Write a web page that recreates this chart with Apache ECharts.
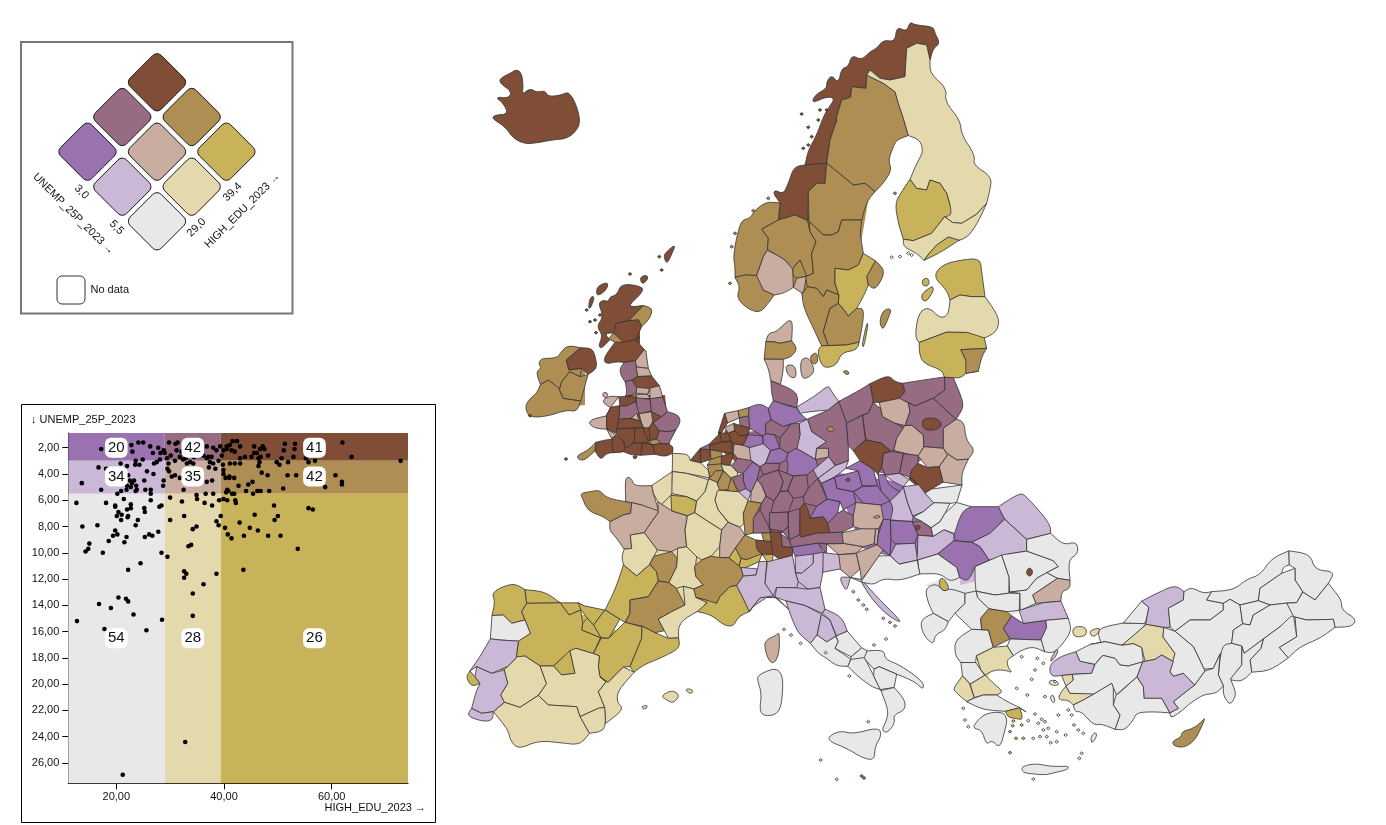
<!DOCTYPE html>
<html>
<head>
<meta charset="utf-8">
<title>UNEMP_25P_2023 / HIGH_EDU_2023</title>
<script src="https://cdn.jsdelivr.net/npm/echarts@6/dist/echarts.min.js"></script>
<style>
html,body{margin:0;padding:0;background:#fff}
#chart{width:1386px;height:825px}
</style>
</head>
<body>
<div id="chart"></div>
<script>
// bivariate classes
var classColors = {
  gr:'#e8e8e8', cr:'#e4d9ac', go:'#c8b35a',
  li:'#cbb8d7', pk:'#c8ada0', ta:'#af8e53',
  pu:'#9972af', ma:'#976b82', br:'#804d36', wh:'#ffffff'
};
var legendCells = [
  ['br',157,82.3],['ma',122.3,117],['ta',191.7,117],
  ['pu',87.5,151.7],['pk',157,151.7],['go',226.4,151.7],
  ['li',122.3,186.7],['cr',191.7,186.7],['gr',157,221.3]
];

// scatter: high edu %, unemployment %
var eduBreaks = [29.0, 39.4];
var unempBreaks = [3.0, 5.5];
var eduTicks = [20,40,60];
var unempTicks = [2,4,6,8,10,12,14,16,18,20,22,24,26];
var cellClasses = [['pu','ma','br'],['li','pk','ta'],['gr','cr','go']];
var cellCounts = [[20,42,41],[34,35,42],[54,28,26]];
var countX = [20,34.2,56.8];
var countY = [2,4.2,16.5];
var points = [
[21.2,26.9],[32.8,24.4],[34.2,14.8],[34.2,13.1],[36.2,12.4],[38.6,11.6],[43.6,11.3],[32.6,11.9],[33,11.6],[32.6,11.4],
[22.2,11.3],[24.5,10.8],[28.4,10],[29.5,10.3],[17.5,10],[14.3,9.9],[14.8,9.7],[15,9.3],[18.6,9.1],[21.5,9.2],
[21.9,8.8],[19.4,8.7],[20.2,8.6],[19.8,8.3],[25.3,8.8],[26.1,8.6],[26.7,8.7],[27.8,8.4],[23.6,7.9],[24,7.5],
[13.7,8],[16.5,7.9],[12.6,6.2],[18.1,6.2],[19.8,6.4],[19.8,6.5],[20.1,7.2],[20.4,6.9],[20.9,7.5],[21,7.1],
[22.2,7.2],[22.1,7.3],[22,6.7],[22.7,6.3],[22.7,6.6],[21.4,5.9],[25.2,6.6],[25.3,6.9],[26.4,6],[28,6.5],
[28.4,6.4],[30,5.8],[32.2,6.1],[36.4,6.2],[37.8,6.4],[30,7.5],[32.6,7.2],[38.6,7.6],[39,7.9],[39.4,7.2],
[34.2,8.2],[34.9,8],[33.4,9.5],[33.9,9.4],[40.2,8.1],[40.7,8.6],[41.4,8.9],[42.9,7.7],[43.7,8.7],[44.8,8.1],
[45.7,7.1],[46.3,8.3],[48.2,8.7],[49.3,6.4],[49.4,7.5],[50,7.2],[50.5,8.7],[53.7,9.7],[55.7,6.6],[56.5,6.7],
[39.1,6],[39.9,5.9],[40.6,6],[42.2,6.2],[42.1,6],[16.8,13.9],[19,14.2],[20.4,13.4],[21.8,13.5],[22.2,13.7],
[23.2,14.7],[12.7,15.2],[17.8,15.8],[25.6,15.9],[28.5,15.1],[13.6,4.7],[16.7,3.5],[18.1,3.6],[17.2,5.2],[20.2,5.5],
[20.9,5.3],[21.9,5.2],[22,4.9],[22.7,5],[22.9,4.7],[23.3,4.5],[22.5,4.5],[22.2,4.1],[22,3.4],[20.8,3.2],
[23.7,4.9],[23.6,5.3],[23.8,5.2],[25.2,4.5],[25.4,5.2],[26.4,5.2],[26.4,5.5],[25.7,3.8],[26.9,4],[23.5,3.3],
[23.6,3],[24.3,3.3],[24.9,2.9],[27,3.2],[27.5,3.1],[28.1,2.9],[28.7,4.9],[28.8,4.5],[29.8,3.8],[29.5,3.6],
[30.3,4.2],[30.9,4.1],[31.8,4.3],[32.5,5.2],[34.9,5.6],[35,5.9],[36.6,5.5],[38,5.5],[36.8,4.6],[37.8,4.5],
[37.2,3.5],[38.4,3.6],[39.9,3.7],[39.9,4],[40.3,4.3],[41,4.3],[41,4.2],[41.9,4.3],[39.8,3.3],[42.7,4.9],
[40.6,5.2],[40.4,5.4],[40.8,5.3],[41.5,5.5],[41.9,5.5],[44.1,5.3],[44.5,4.8],[45.3,4.6],[45.4,5.5],[46.2,5.3],
[46.8,5.3],[48.4,5.3],[51,5.1],[47,3.9],[48.1,4.1],[51.8,4.1],[53.4,4.1],[58.8,5],[60.7,4.1],[61.9,4.6],
[61.9,4.8],[72.8,3],[63.7,2.7],[62,1.6],[17.2,2.1],[22.8,1.8],[24.1,1.6],[25,1.6],[26.3,1.9],[26.8,2.4],
[27.8,2],[28.2,2.4],[28.8,2.2],[29,2.4],[23,2.3],[29.8,1.6],[31,1.7],[31.4,1.6],[29.4,2.8],[29.7,3.2],
[30.1,2.6],[30.9,3],[31.8,2.7],[32.1,2.3],[31.2,2.2],[32.4,2.9],[33.1,3.2],[33.7,3.1],[34.3,3.2],[32.9,2.8],
[34.4,2.7],[36.2,2.6],[36.8,2.8],[37.4,3.1],[38,3.2],[37.1,2.7],[37.7,2.7],[39,3],[36.8,1.9],[38,2],
[38.6,2.2],[39.3,1.9],[39.9,2.2],[40.5,1.9],[41.1,1.8],[41.6,1.5],[42.4,1.5],[41.4,2.2],[42,2.3],[43,1.9],
[39.6,2.6],[40.5,2.1],[41.1,3.2],[42,3.2],[43,2.8],[43,3.2],[43.9,2.7],[45.1,2.7],[45.6,2.4],[46.1,2.4],
[45.6,1.9],[46.4,2.8],[46.8,2.7],[46.6,3.1],[46.4,3.4],[46.7,2.1],[47.2,1.9],[47.5,2.1],[48.2,2.6],[49.8,3.1],
[50.3,3.3],[50.7,2.8],[51.1,2.2],[51.3,1.7],[51.9,3.1],[52.9,2.7],[53.1,2.1],[53.2,1.7],[55.2,2.8],[55.7,3.1],[56.9,3]
];

// region outlines, one list per part of the map
// third field 1 = island, keep it apart from its neighbours
var nordicShapes = [
['br','570,5 585,15 640,20 645,40 660,70 640,85 630,120 620,75 590,70 560,85 555,170 510,180 480,175 450,150 440,165 438,205 395,200 392,232 365,240 345,295 355,300 330,360 320,430 255,435 265,390 290,345 310,290 325,265 345,235 320,230 275,250 285,225 320,205 320,185 335,165 355,190 365,145 385,140 395,105 425,120 450,95 470,85 490,60 525,65 530,20 560,35'],
['br','255,435 320,428 315,490 290,490 265,515 262,600 225,585 195,605 175,600 180,550 160,520 165,510 190,522 205,490 222,440'],
['ta','180,548 175,600 125,620 125,635 145,655 135,690 130,710 110,765 75,765 45,770 45,740 40,710 50,650 65,600 90,595 105,570 140,545'],
['ta','45,775 75,765 110,770 130,810 160,825 145,850 120,878 85,868 50,835 60,800'],
['pk','150,688 175,700 195,720 215,750 215,800 190,820 165,825 130,810 110,765 130,710'],
['ta','125,620 175,600 225,585 265,605 270,635 288,665 275,700 280,760 260,765 240,720 222,740 215,750 195,720 150,688 135,690 145,655 125,635'],
['ta','240,720 260,765 235,770 215,765 222,740'],
['pk','225,780 250,768 260,775 255,815 240,820 225,805'],
['ta','440,165 490,190 525,215 535,250 550,295 565,345 530,360 520,380 505,420 515,450 490,490 465,515 435,490 400,495 370,470 320,430 330,360 355,300 345,295 365,240 392,232 395,200 438,205'],
['ta','320,430 370,470 400,495 435,490 465,515 440,545 425,600 365,600 355,635 335,645 310,645 290,625 268,605 262,600 265,515 290,490 315,490'],
['ta','268,605 290,625 310,645 335,645 355,635 365,600 425,600 420,640 430,700 415,735 385,750 345,745 345,790 355,825 320,810 310,830 290,805 262,800 255,775 280,760 275,700 288,665 270,635'],
['ta','465,725 490,745 490,770 465,810 445,795 440,770'],
['go','430,700 470,715 465,725 440,770 445,795 430,830 410,865 385,888 368,865 355,850 360,825 345,790 345,745 385,750 415,735'],
['ta','262,800 290,805 310,830 320,810 355,825 355,850 330,865 310,935 325,980 305,975 280,925 250,860 240,820 255,815'],
['ta','355,850 368,865 385,888 410,865 430,865 430,900 420,965 380,975 325,975 310,935 330,865'],
['go','305,980 325,975 380,975 415,968 410,990 365,998 350,1035 315,1045 300,1025 293,990'],
['ta','490,870 515,865 505,895 488,932 478,905',1],
['go','440,910 445,910 432,980 425,980',1],
['cr','560,85 590,70 620,75 630,120 630,160 680,205 675,245 720,300 725,345 765,405 760,435 815,470 810,510 800,550 770,580 730,605 700,615 680,590 690,555 680,520 660,490 630,480 620,510 590,505 570,478 590,430 610,395 600,360 565,348 550,295 535,250 525,215 490,190 440,165 450,150 480,175 510,180 555,170'],
['go','570,478 590,505 620,510 630,480 660,490 680,520 690,555 695,585 670,590 635,640 580,662 550,655 535,610 525,550 545,515'],
['cr','550,660 580,662 635,640 670,590 695,600 720,615 770,585 800,550 775,605 745,650 720,660 690,650 650,675 630,700 610,720 590,700 550,680'],
['go','650,675 680,652 712,650 712,670 665,695 615,722 625,700'],
['go','640,770 665,735 720,720 780,715 785,755 795,830 755,830 720,825 690,840 680,810'],
['go','605,780 625,772 628,795 610,800',1],
['go','600,825 640,795 640,815 615,850',1],
['cr','690,840 720,825 755,830 795,830 830,880 838,910 825,940 790,945 740,930 680,935 600,965 585,950 595,880 625,860 660,895 685,885'],
['go','595,970 680,938 715,928 745,945 798,965 800,985 725,990 745,1020 775,1050 775,1065 740,1055 720,1075 680,1075 665,1050 610,1030 598,1000'],
['ta','720,988 760,990 800,985 785,1010 775,1050 755,1055 735,1065 730,1020'],
['pk','145,940 170,935 205,900 218,905 215,960 180,970 160,965 140,965'],
['ta','135,965 160,965 180,970 215,965 232,985 215,1010 190,1018 135,1015'],
['pk','130,1020 190,1018 190,1050 185,1085 150,1085 145,1045'],
['pk','195,1035 225,1035 230,1075 205,1070',1],
['pk','240,1020 265,1010 285,1050 270,1070 245,1078',1],
['ta','268,1010 290,995 295,1025 280,1035',1],
['ta','370,1050 388,1055 385,1065 372,1060',1]
];
var britishShapes = [
['br','110,28 125,40 130,80 125,105 150,85 170,97 195,92 205,110 245,105 265,95 285,125 300,175 295,205 265,235 215,240 175,248 135,252 100,235 75,200 35,175 45,165 85,162 70,130 45,110 85,115 95,95 60,70 60,55 90,40',1],
['br','555,580 580,557 585,560 565,605 558,608 552,590',1],
['br','482,650 500,645 505,655 490,672 482,665',1],
['br','350,680 385,665 380,690 350,710',1],
['br','325,745 330,712 345,708 332,745',1],
['br','425,670 490,680 485,700 440,742 490,735 475,770 447,783 408,790 395,815 372,820 385,835 365,865 355,860 368,825 350,800 370,770 355,730 370,720 385,725 390,710 410,705'],
['ta','447,780 490,738 518,745 510,775 485,800 475,785'],
['br','408,790 447,783 475,785 485,800 470,830 480,825 465,845 430,845 410,825 400,820'],
['br','370,895 405,845 430,850 465,845 480,850 495,870 470,895 465,905 430,910 410,905 378,912'],
['ta','395,830 405,822 430,840 425,852 405,848 390,845'],
['pk','465,905 490,868 503,880 505,925 468,920'],
['ma','420,925 435,905 465,900 470,950 455,960 435,965 422,945'],
['pk','468,922 505,925 515,948 475,950'],
['br','458,960 475,948 515,948 538,975 540,980 515,982 510,1000 470,980'],
['ma','435,965 455,960 470,982 468,1000 432,1005 440,985'],
['ta','445,1005 468,995 468,1012 448,1012'],
['pk','470,985 498,985 500,1005 470,1005'],
['pk','512,985 538,978 548,1010 510,1015'],
['br','418,1010 445,1012 468,1012 465,1030 440,1038 420,1035'],
['pk','470,1005 500,1005 510,1018 490,1025 470,1015'],
['ma','510,1015 548,1012 555,1055 545,1070 515,1060 510,1040'],
['ma','468,1015 510,1020 512,1055 490,1060 470,1055'],
['ma','420,1038 440,1038 465,1030 470,1060 450,1075 418,1078'],
['pk','450,1070 470,1063 478,1080 462,1080'],
['pk','478,1065 515,1055 518,1085 505,1105 485,1105'],
['ma','518,1080 545,1070 570,1055 595,1065 602,1085 590,1110 565,1115 545,1110 515,1105'],
['ma','530,1115 565,1115 585,1110 565,1145 545,1150 530,1140'],
['pk','365,1025 385,1008 415,1010 395,1040 382,1065 382,1105 410,1118 395,1130 375,1115 345,1105 326,1090 335,1078 372,1070 385,1045'],
['pk','370,995 385,1000 380,1015 368,1010',1],
['br','395,1040 418,1038 418,1078 412,1105 410,1118 382,1105 382,1065'],
['br','412,1078 450,1075 478,1085 485,1102 440,1105 412,1105'],
['br','410,1110 440,1105 465,1105 463,1145 435,1165 430,1145 410,1125'],
['br','465,1105 500,1105 505,1150 485,1150 463,1150'],
['br','505,1100 520,1095 535,1115 530,1135 510,1140'],
['ta','508,1135 530,1135 535,1150 515,1155 505,1145'],
['br','345,1150 355,1138 375,1140 395,1140 435,1165 430,1175 400,1178 380,1180 362,1200 345,1170'],
['ta','285,1190 325,1170 345,1150 345,1175 310,1205'],
['br','395,1140 410,1128 432,1145 435,1168 425,1175 400,1178'],
['br','463,1150 488,1150 480,1185 455,1185 435,1175 435,1165'],
['br','488,1150 515,1155 525,1180 520,1192 490,1188 480,1185'],
['br','525,1155 545,1150 565,1160 580,1160 575,1175 555,1190 530,1180'],
['br','458,1187 472,1187 470,1196 460,1196',1],
['ta','240,880 262,856 305,855 300,868 260,900 265,925 305,925 300,950 270,940 245,965 240,985 205,960 185,975 170,970 168,935 185,925 175,910 185,895 215,895 235,890'],
['ta','185,975 205,960 240,985 235,995 250,1015 285,1020 300,1025 290,1055 260,1050 205,1068 150,1073 135,1045 145,1020 170,1000'],
['ta','270,940 300,950 318,945 305,1020 250,1015 238,990 245,965'],
['br','258,900 300,868 335,865 345,885 352,925 330,942 305,925 265,925']
];
var centralShapes = [
['ma','335,30 415,65 410,115 385,100 345,90 335,70'],
['ta','372,110 385,103 392,118 375,120'],
['li','410,105 470,75 505,45 515,65 530,95 505,120 450,125 420,130'],
['pu','268,105 300,100 325,115 330,150 315,165 320,190 305,200 275,180 265,170 265,130'],
['pu','325,115 335,95 385,105 410,118 420,130 438,145 395,160 370,170 335,150'],
['ma','438,140 505,120 540,100 555,165 565,230 565,265 530,280 508,258 505,235 470,235 500,215 455,185 445,150'],
['ta','500,175 512,168 525,178 518,185 502,183',1],
['li','415,155 445,150 455,185 500,215 470,235 465,268 420,240 405,235 420,195'],
['ma','320,150 335,150 370,170 390,165 360,205 345,195 320,190 315,165'],
['ma','395,160 420,165 420,195 405,235 380,250 360,235 360,205'],
['pu','250,225 265,190 305,200 310,215 285,240 250,228'],
['pu','310,200 320,190 345,195 358,235 335,245 310,225'],
['pk','225,218 250,225 285,240 270,268 240,265 228,250'],
['li','265,240 310,225 330,240 315,280 300,290 280,275'],
['ma','225,265 270,268 280,285 250,310 235,305 218,285'],
['pu','250,310 280,280 300,290 290,330 280,365 255,355 250,330'],
['ma','222,320 250,310 250,335 260,355 240,365 225,345'],
['li','238,365 258,360 268,370 262,388 240,380'],
['pk','270,365 290,335 305,340 315,375 305,400 278,398'],
['pu','330,240 360,235 385,250 380,268 360,280 320,280'],
['ma','300,290 315,280 360,280 355,300 310,315'],
['ma','295,320 310,315 355,300 370,335 360,365 345,395 320,380 305,350'],
['pu','385,250 405,235 420,240 465,270 475,290 440,315 400,318 380,310 385,290 380,268'],
['pk','470,235 505,235 505,262 470,268'],
['li','460,300 505,262 525,290 475,320'],
['li','475,320 525,290 565,280 555,300 520,320 485,340'],
['ma','355,300 380,310 400,318 385,350 380,360 360,365 370,335'],
['ma','400,318 440,315 445,355 430,380 400,385 385,370 385,350'],
['ma','445,355 470,335 500,385 470,408 440,398 430,380'],
['ma','335,390 360,365 385,370 400,385 390,420 335,425'],
['ma','305,400 320,380 345,395 335,425 325,430 325,465 298,440 300,420'],
['ma','325,430 380,430 385,470 370,480 330,480'],
['ma','300,420 325,465 330,480 345,490 330,490 285,490 278,480 280,445'],
['ma','330,480 370,480 385,470 380,505 360,490 345,490'],
['ma','385,430 420,415 418,490 390,510 385,470'],
['br','425,402 445,420 450,445 490,440 500,465 510,485 470,490 425,505 418,490 420,415'],
['pu','450,445 470,410 500,390 540,395 530,430 505,455 490,440'],
['pu','485,340 525,325 532,360 580,365 585,395 555,420 540,395 505,385'],
['pu','525,320 590,300 605,360 575,365 530,350'],
['br','555,330 565,322 572,330 565,335',1],
['pu','560,290 600,275 640,305 650,345 610,345 600,305'],
['ma','505,460 535,430 545,420 585,435 580,470 550,480 545,490 510,490'],
['ma','360,495 390,510 390,530 368,530'],
['ma','390,510 418,492 425,505 470,490 510,490 548,490 548,520 500,520 475,518 455,525 405,535 390,530'],
['pk','500,525 560,520 610,530 590,550 530,552'],
['pk','545,490 620,470 650,480 640,520 610,530 545,520'],
['pu','400,535 475,520 495,545 445,572 420,560 400,550'],
['ma','475,520 500,520 505,545 490,545'],
// Netherlands and Belgium
['pk','197,130 225,120 240,120 238,150 205,158'],
['ta','240,125 265,120 273,150 262,140 240,140'],
['ma','235,140 268,140 268,168 240,165'],
['br','170,185 190,130 200,160 190,190 178,190'],
['br','222,165 265,175 265,195 240,198 222,185'],
['pk','190,170 220,155 225,180 205,190'],
['br','205,190 225,180 240,198 262,198 248,225 220,222 210,210'],
['br','178,190 205,190 210,210 180,210'],
['br','145,215 178,190 180,210 190,225 165,220 150,230'],
['ma','125,225 148,215 150,238 125,238'],
['br','150,228 190,222 220,222 215,248 185,250 150,240'],
['br','185,250 213,248 205,285 185,285'],
['br','85,265 115,238 120,278 100,275'],
['br','118,240 150,238 150,275 120,278'],
['ta','152,240 185,238 185,262 155,265'],
['ta','150,265 185,262 185,280 145,285'],
['ta','140,285 185,280 190,300 170,310 150,322'],
['ta','150,325 165,295 190,300 175,340 165,340'],
['ta','180,340 190,310 210,325 205,360 185,365'],
['ta','205,360 215,325 235,365 215,368'],
['cr','180,285 215,290 230,310 235,325 210,320 190,300']
];
var franceShapes = [
['ta','30,130 60,125 90,120 110,145 185,158 182,190 160,195 120,215 100,200 60,185 45,165 40,150'],
['pk','165,80 185,85 192,108 245,112 250,130 268,180 265,185 215,165 185,158 168,150'],
['pk','120,215 160,195 182,190 185,158 215,165 265,185 262,200 245,215 222,250 180,255 185,295 160,295 140,265 118,240'],
['pk','265,155 305,190 355,200 345,240 350,290 325,295 305,305 262,300 225,245 245,215 265,185'],
['cr','243,95 310,72 310,125 298,140 280,155 262,155 250,130 248,110'],
['cr','310,15 355,12 360,35 395,40 420,60 415,85 350,70 305,60'],
['cr','305,60 350,70 415,88 405,125 380,155 350,140 310,130'],
['go','298,140 310,130 350,140 380,150 372,185 350,200 325,192 305,175'],
['cr','415,90 440,90 445,115 470,120 440,125 435,150 445,180 470,215 455,240 415,215 375,190 380,155 405,125'],
['cr','445,120 500,125 535,155 520,190 525,220 510,232 475,215 445,180 435,150 440,125'],
['cr','352,190 375,190 415,215 455,240 450,290 420,320 395,330 380,320 350,290 345,240'],
['pk','455,240 480,222 510,232 525,255 490,295 475,325 450,320 448,290'],
['ta','530,155 575,160 550,205 545,255 525,255 520,190'],
['cr','182,255 222,250 262,300 245,335 235,345 200,378 160,345 155,320 165,300 185,295'],
['ta','245,315 305,305 322,325 320,350 300,395 265,392 258,365 240,345'],
['cr','320,295 350,290 380,320 385,345 372,355 378,380 400,405 370,418 340,408 318,415 295,400 320,350 322,325'],
['ta','372,340 395,330 420,320 430,315 448,325 475,325 505,345 520,375 500,405 480,410 450,440 440,460 415,450 380,440 372,415 400,405 378,380 372,355'],
['go','155,345 165,345 200,378 240,345 260,365 265,392 235,440 180,450 180,490 170,518 105,480 135,420'],
['ta','265,395 295,400 320,415 345,465 305,485 265,505 278,545 260,548 215,525 170,518 180,490 180,450 235,440'],
['cr','340,410 370,418 372,445 410,455 400,480 345,505 325,530 320,562 300,565 265,510 305,485 345,465'],
['go','380,440 415,450 440,460 450,440 480,410 500,405 545,480 505,500 490,530 460,525 425,495 385,490 410,465'],
// Switzerland
['go','480,320 500,295 515,320 505,345'],
['ta','500,292 525,255 560,265 580,275 570,310 530,328 515,320'],
['go','510,335 530,330 575,315 570,330 525,355 515,350'],
['ta','575,250 605,245 605,275 582,272'],
['br','555,275 605,275 605,315 580,305 560,300'],
['go','582,320 612,315 608,360 595,345'],
['br','600,248 630,250 635,290 670,295 665,320 650,335 625,322 610,310']
];
var iberiaShapes = [
['go','95,95 160,68 195,90 200,130 185,155 195,180 155,190 130,165 97,165 105,125'],
['go','195,88 255,95 310,128 200,130'],
['go','295,128 350,122 370,140 360,150 330,165 315,150'],
['go','360,135 375,135 435,148 402,195 385,170 365,150'],
['go','400,195 435,152 475,185 445,235 420,230'],
['go','368,188 380,180 400,195 425,235 385,222 365,210'],
['go','200,130 295,130 325,165 362,150 368,190 365,210 420,235 400,280 345,265 300,295 280,318 240,318 195,288 170,290 175,245 210,220 195,180 185,155'],
['go','282,318 330,272 345,340 305,345'],
['go','400,280 425,235 447,235 485,185 545,205 545,235 510,320 490,320 445,368 420,350 415,320 418,285'],
['go','548,198 580,218 620,235 662,235 660,265 600,295 550,315 525,338 510,320 545,235'],
['cr','240,318 280,318 305,345 345,340 330,272 350,265 400,282 418,290 415,320 420,350 435,365 415,395 435,440 415,445 360,470 350,440 265,435 235,405 260,370'],
['cr','170,292 195,288 240,318 258,372 235,405 205,435 180,442 135,425 122,405 143,370 130,335 165,300'],
['cr','420,352 450,368 490,322 520,335 475,390 470,425 492,448 440,490 435,440 415,395 435,365'],
['cr','360,470 415,445 432,445 438,512 388,520 365,490'],
['cr','100,455 135,425 180,442 235,408 265,435 350,440 360,470 388,520 360,555 300,548 235,542 175,568 150,540 145,510'],
['gr','92,235 95,168 130,165 155,190 195,180 212,220 175,240 120,240'],
['li','30,325 60,290 90,238 120,240 175,245 170,290 150,325 95,340 50,320'],
['go','18,352 30,340 45,350 60,370 35,380'],
['li','50,320 95,340 135,325 143,370 122,405 130,430 100,455 65,460 35,445 48,395 60,370 45,350'],
['li','20,468 35,445 65,460 100,455 98,480 70,485'],
['cr','603,408 635,390 660,405 640,430 620,420',1],
['cr','678,385 700,390 695,402 680,395',1],
['cr','542,440 565,435 555,450',1]
];
var italyShapes = [
['pk','108,300 140,285 148,275 148,340 132,372 115,360 103,320',1],
['li','30,90 75,85 78,105 40,110'],
['li','20,140 40,110 78,105 85,70 110,60 105,130 130,165 90,172 55,215 35,185'],
['li','110,60 190,50 195,100 210,125 200,142 145,140 130,165 105,130'],
['li','195,52 250,42 250,70 215,100 195,95'],
['li','250,42 285,40 275,90 265,140 235,145 200,125 200,100 215,100 250,70'],
['li','275,40 330,45 340,90 325,95 290,100 275,100'],
['li','55,218 90,175 130,172 175,208 140,180 110,182 75,205'],
['li','135,145 200,145 235,150 275,145 280,205 275,220 225,195 175,180 140,170'],
['li','160,185 225,198 275,222 260,285 240,310 205,280 185,235'],
['li','275,225 300,240 318,290 290,305 262,285'],
['li','290,210 335,230 352,272 320,285 300,240 280,218'],
['gr','245,290 262,285 290,307 315,290 325,305 315,325 360,352 355,378 320,378 290,355 265,340 243,310'],
['gr','320,288 352,275 395,322 365,350 315,325 325,305'],
['gr','365,350 395,325 412,335 405,355 370,365'],
['gr','355,365 395,362 412,365 430,405 450,440 445,452 425,440 385,410 352,380'],
['gr','412,330 462,330 465,358 510,375 580,425 580,450 555,425 500,400 445,380 432,385 412,365 405,345'],
['gr','432,390 450,380 500,405 495,440 455,455 432,410'],
['gr','455,455 490,445 525,480 525,510 490,525 495,550 470,580 455,570 470,540 475,510'],
['gr','295,590 330,572 370,582 445,562 455,585 435,620 433,660 400,655 350,625 300,605',1],
['gr','85,405 130,385 152,395 160,430 152,515 115,530 88,518 95,460 82,420',1],
['li','330,110 355,110 390,130 440,170 525,255 470,225 420,170 395,135 365,120 350,155 335,130']
];
var easternShapes = [
['br','90,40 145,15 165,35 185,40 195,65 175,85 135,85 115,100 100,95'],
['ma','0,85 60,60 90,42 100,95 85,130 70,135 25,160 0,145'],
['ma','190,40 250,30 310,20 315,60 280,85 225,108 205,95 185,85 195,65'],
['ma','310,20 340,25 360,70 372,110 350,145 310,110 280,85 315,60'],
['ma','20,155 65,135 75,205 40,240 25,225'],
['ma','68,135 85,130 100,100 125,115 125,135 190,175 170,205 165,240 150,245 125,220 75,210'],
['pk','120,95 175,85 205,100 210,125 195,165 165,160 130,145 120,120'],
['pk','190,170 215,165 250,195 250,230 235,255 200,245 165,240 170,205'],
['ma','205,100 225,108 280,85 345,150 310,175 310,235 255,230 250,195 215,165 200,165 210,125'],
['br','245,150 270,142 300,150 305,170 280,182 250,178',1],
['pk','310,175 350,148 372,155 378,210 405,240 385,265 360,270 345,270 330,250 310,235'],
['pk','235,255 250,230 310,235 315,260 295,290 260,290 235,265'],
['pk','300,285 325,250 345,270 385,270 365,310 372,350 310,338 300,300'],
['br','215,300 235,280 265,295 295,285 308,335 255,360 215,320'],
['ma','185,255 235,255 232,280 215,300 215,320 232,348 200,325 178,310'],
['ma','130,250 150,245 185,250 178,310 135,315 125,290'],
['br','40,245 80,215 125,220 150,245 130,250 125,290 110,318 100,290 60,270'],
['pu','118,310 135,320 145,345 180,365 165,385 150,392 125,370'],
['li','135,310 178,310 205,335 190,350 160,335'],
['pu','45,365 65,342 115,350 120,355 150,392 120,405 70,395'],
['li','150,395 180,365 190,350 205,400 220,445 215,460 180,465 150,445 160,415'],
['li','190,350 240,340 255,375 280,400 250,425 220,435 205,415 200,395'],
['gr','255,375 268,345 360,340 355,395 330,400 285,395'],
['pk','35,440 50,400 125,405 135,445 110,470 105,475 60,470 40,470'],
['go','100,440 118,435 120,443 102,445',1],
['pk','105,478 125,475 110,525 100,520'],
['ma','218,445 240,455 270,480 278,498 240,495 228,470'],
['br','225,468 238,465 242,475 230,482',1],
['pu','155,455 215,460 228,490 225,520 195,515 160,525 150,510'],
['pu','125,450 150,450 155,505 150,555 115,525 112,495'],
['li','150,555 175,520 225,520 232,570 210,585 175,580'],
['li','232,500 280,500 312,480 340,495 338,515 295,550 232,570'],
['gr','220,440 250,425 280,400 330,400 310,430 300,455 275,470 245,450'],
['gr','275,470 300,455 320,430 345,400 388,410 345,490 340,492 312,478 280,500'],
['pu','345,490 365,425 400,410 470,410 485,445 450,490 395,515 350,510'],
['li','480,410 540,368 560,380 630,460 632,490 560,505 505,450 485,445'],
['li','395,515 450,490 500,450 530,480 560,510 560,540 510,550 450,567 420,530'],
['pu','295,550 340,510 395,520 420,530 445,575 405,590 385,635 360,620 350,590'],
['gr','405,590 485,555 510,625 505,670 465,675 410,665 405,630'],
['gr','485,555 560,545 640,572 655,590 620,605 590,625 560,660 510,665 505,620'],
['br','568,590 580,605 570,622 557,608',1],
['gr','560,510 632,490 670,525 710,515 715,550 685,570 690,630 655,625 620,610 655,590 640,572 560,545'],
['pk','575,675 620,650 650,625 690,632 690,655 665,665 665,695 590,700'],
['gr','410,665 465,675 505,672 540,670 535,720 500,725 440,715 410,690'],
['gr','510,665 560,660 590,625 620,610 650,625 580,675 585,700 545,710 535,725 540,670'],
['gr','235,570 290,555 350,595 358,625 330,635 300,610 250,610'],
['gr','65,625 110,555 150,560 180,585 230,572 240,625 180,632 130,625 100,645'],
['pk','0,555 45,555 60,600 35,620 10,605 0,590'],
['pk','50,545 115,525 125,545 75,605 65,620 60,595']
];
var balkanShapes = [
['gr','15,85 50,70 70,95 90,85 135,100 135,130 105,160 85,185 40,160 25,130'],
['go','55,75 65,47 90,85 72,95',1],
['gr','0,180 40,160 85,185 75,210 45,225 40,255 10,225'],
['gr','135,100 165,90 175,105 190,130 215,145 182,175 185,210 155,208 105,160 135,130'],
['gr','105,240 155,208 205,210 220,262 170,285 165,305 120,305 105,285'],
['ta','182,175 205,148 260,155 275,170 250,205 270,235 220,262 205,210 185,208'],
['pu','250,205 275,165 310,190 370,182 380,200 360,240 300,245 270,235'],
['li','305,155 370,135 420,122 445,175 385,180 370,182 310,190'],
['gr','385,180 445,175 455,210 430,250 400,280 375,275 370,240 380,205'],
['cr','458,200 498,200 500,228 460,232',1],
['cr','510,210 545,203 528,228 512,228',1],
['gr','270,240 360,240 372,275 340,260 305,270 280,290 262,258'],
['cr','168,290 220,262 262,258 280,285 260,300 265,325 280,340 255,330 222,330 205,345 180,325'],
['gr','125,310 165,305 170,315 185,335 190,345 155,370 130,350'],
['cr','125,345 140,370 150,375 160,415 140,425 105,395 100,385'],
['cr','150,375 190,345 215,365 250,395 230,405 190,405 165,410'],
['gr','165,415 190,405 230,405 262,425 300,440 325,460 300,445 275,440 250,450 200,450 170,440 140,425'],
['go','262,458 298,445 310,480 285,475 265,472'],
['gr','165,490 195,460 250,455 262,480 255,510 240,565 215,540 200,555 185,510 160,505',1],
['gr','305,620 345,610 395,620 450,618 440,630 395,640 375,645 320,640 307,635',1],
['gr','382,368 400,358 420,372 405,378',1],
['gr','390,408 402,405 405,430 395,425',1],
['gr','512,530 528,515 530,530 515,552',1]
];
var turkeyShapes = [
['gr','170,265 250,250 310,245 320,255 305,275 245,315 190,305 150,312 180,295'],
['cr','248,315 315,255 370,262 368,290 405,340 400,365 365,345 345,358 318,365 305,320 280,310'],
['gr','250,248 305,185 325,200 328,235 315,245'],
['li','305,182 350,160 405,135 432,155 430,180 385,205 390,262 372,262 320,255 328,205'],
['gr','432,155 455,142 490,160 515,155 500,180 550,190 550,210 510,240 480,245 450,240 405,272 392,262 385,205 430,180'],
['gr','515,155 580,150 620,118 660,105 695,55 745,40 748,75 730,80 725,100 660,145 655,182 600,195 570,178 550,190 500,180'],
['gr','748,25 810,42 825,90 885,95 865,130 835,145 825,180 790,155 770,125 765,85 748,75'],
['gr','660,145 725,100 765,85 760,115 785,155 770,188 740,188 690,195 655,182'],
['gr','790,158 825,180 865,130 905,180 905,210 950,238 935,260 885,262 880,238 800,240 765,228 740,190 770,188'],
['gr','550,190 570,178 600,195 608,250 580,270 575,310 540,345 520,385 495,395 490,380 460,320 405,275 450,240 510,240 550,210'],
['gr','600,195 655,182 690,195 640,225 630,255 608,252'],
['gr','630,255 640,225 690,195 740,190 750,228 720,260 670,295 610,340 605,315 575,310 580,270 608,252'],
['gr','765,230 800,240 880,238 885,262 840,295 780,320 745,355 715,325 770,290'],
['gr','750,228 765,235 770,290 720,320 745,352 690,392 630,395 630,360 665,325 670,295 720,260'],
['gr','605,320 615,340 670,300 660,325 630,360 640,398 605,425 570,420 568,410 605,375'],
['gr','545,315 575,310 605,320 605,375 570,410 572,425 590,460 575,490 565,490 550,465 550,440 535,405'],
['gr','540,340 535,405 550,435 530,460 480,465 395,538 388,520 415,505 400,485 465,435 495,395 520,385'],
['gr','405,275 460,320 490,380 495,395 465,435 450,410 430,400 400,410 390,395 405,340 370,292 372,262'],
['li','305,368 345,358 365,345 400,365 390,395 400,408 430,400 462,435 400,485 415,505 390,518 365,475 312,475 310,440 292,410'],
['gr','220,495 225,465 240,465 290,412 310,440 312,475 365,475 390,518 340,515 290,518 280,540 255,570 225,568 240,525'],
['li','28,375 60,350 100,335 120,365 165,375 155,400 100,400 60,405 32,410'],
['cr','70,408 95,405 100,420 80,440 90,460 160,462 130,480 100,495 85,480 55,480 60,460 72,435'],
['gr','115,335 150,315 200,305 245,318 280,312 305,325 312,360 265,378 240,375 225,355 195,345 180,350 165,372 120,362'],
['gr','165,372 180,350 195,345 225,355 240,375 265,378 305,365 290,410 240,462 225,462 215,430 170,462 160,462 90,460 80,440 100,420 95,405 155,400'],
['gr','100,495 130,480 160,462 215,430 232,437 220,495 240,525 225,568 185,552 160,555 125,515 105,515'],
['li','28,365 50,325 55,335 40,360',1],
['ta','395,605 425,590 425,575 460,565 485,545 498,530 480,570 465,600 435,622 405,620',1]
];
var islets = [
[720,20,'br','245,282 300,270 295,300 265,322 275,350 250,385 265,375 320,270'],
[720,20,'wh','515,712 540,710 565,700 575,705'],
[720,20,'ta','45,640 35,680 30,790 100,572 145,535 525,520'],
[480,60,'br','450,642 538,590 545,630 320,750 330,785 345,780 360,765 348,818 258,1197 150,1067'],
[730,540,'gr','162,268 183,285 212,310 287,338 358,408 432,315 468,297 415,545 272,660 320,718'],
[730,540,'ma','395,708 402,714'],
[730,540,'li','370,155 385,180 400,195 410,208 480,247 460,235 495,258'],
[920,560,'gr','305,290 352,295 370,310 345,330 335,358 290,385 322,405 375,410 345,462 365,478 415,465 445,450 455,465 325,482 355,490 375,485 385,505 370,510 410,515 340,535 360,530 380,530 392,548 410,545 437,525 462,495 475,510 490,520 485,580 478,595 340,657 130,445 135,480 145,500 405,365'],
[920,560,'go','280,483 278,497 305,495 270,515 288,535 310,535 270,578']
];
// borderless land under the regions, so small tracing gaps do not show white
var landPatches = [
['ma','745,432 825,425 845,500 800,535 762,530 750,480'],
['ma','855,412 935,395 945,440 900,478 862,468'],
['pu','832,472 900,482 945,520 918,565 862,548'],
['cr','680,480 735,500 735,555 690,605 640,590 640,530'],
['go','505,615 600,615 635,650 600,695 525,715 495,660'],
['li','745,575 825,565 815,585 805,615 775,590'],
['gr','925,585 980,565 1060,570 1055,598 1000,620 960,600'],
['li','965,515 1045,520 1060,560 960,585'],
['gr','1130,630 1175,595 1250,590 1335,615 1260,650 1180,700 1120,710 1075,680 1100,650'],
['ta','775,240 845,180 870,190 858,260 845,335 820,340 800,290 775,280'],
['cr','905,90 950,110 975,190 955,225 920,200 925,150'],
['br','625,395 665,395 670,445 620,448 625,420'],
['br','615,330 640,330 640,355 620,360'],
['ta','545,360 585,350 585,405 540,410'],
['br','725,430 745,430 740,465 720,450'],
['cr','975,655 995,652 985,690'],
['go','930,340 980,335 970,365 940,365']
];
var shapeGroups = [
[nordicShapes,720,20],[britishShapes,480,60],[centralShapes,660,370],[franceShapes,570,450],
[iberiaShapes,460,560],[italyShapes,730,540],[easternShapes,840,370],[balkanShapes,920,560],[turkeyShapes,1040,540]
];

// the outlines were traced by hand so neighbours do not share their vertices exactly
function snapNeighbours(rings){
  var i,j,k;
  var open = rings.filter(function(r){ return !r.island; });
  // vertex to vertex
  for(i=0;i<open.length;i++){
    open[i].pts.forEach(function(p){
      var best=null,bd=30; // 5.5px squared
      for(j=0;j<open.length;j++){
        if(j==i) continue;
        open[j].pts.forEach(function(q){
          var d=(p[0]-q[0])*(p[0]-q[0])+(p[1]-q[1])*(p[1]-q[1]);
          if(d==0){p.shared=true;q.shared=true;}
          else if(d<bd){bd=d;best=q;}
        });
      }
      if(best){
        var mx=(p[0]+best[0])/2,my=(p[1]+best[1])/2;
        p[0]=mx;p[1]=my;best[0]=mx;best[1]=my;
        p.shared=true;best.shared=true;
      }
    });
  }
  // vertex onto the nearest edge
  for(i=0;i<open.length;i++){
    open[i].pts.forEach(function(p){
      var best=null,bd=25;
      for(j=0;j<open.length;j++){
        if(j==i) continue;
        var q=open[j].pts;
        for(k=0;k<q.length;k++){
          var a=q[k],b=q[(k+1)%q.length];
          var dx=b[0]-a[0],dy=b[1]-a[1],l=dx*dx+dy*dy;
          if(!l) continue;
          var t=((p[0]-a[0])*dx+(p[1]-a[1])*dy)/l;
          t=Math.max(0,Math.min(1,t));
          var x=a[0]+t*dx,y=a[1]+t*dy;
          var d=(p[0]-x)*(p[0]-x)+(p[1]-y)*(p[1]-y);
          if(d<bd){bd=d;best=[x,y];}
        }
      }
      if(best){p[0]=best[0];p[1]=best[1];p.shared=true;}
    });
  }
}
// round the coast corners, vertices shared with a neighbour stay where they are
function roundCoast(pts){
  var out=[];
  pts.forEach(function(p,i){
    if(p.shared){out.push(p);return;}
    var a=pts[(i+pts.length-1)%pts.length],b=pts[(i+1)%pts.length];
    out.push([p[0]+(a[0]-p[0])*0.25,p[1]+(a[1]-p[1])*0.25]);
    out.push([p[0]+(b[0]-p[0])*0.25,p[1]+(b[1]-p[1])*0.25]);
  });
  return out;
}

var regionRings = [];
function toPoint(p, ox, oy, scale){
  var a = p.split(',');
  return [ox + Number(a[0])/scale, oy + Number(a[1])/scale];
}
landPatches.forEach(function(s){
  regionRings.push({cls:s[0],island:true,patch:true,pts:s[1].split(' ').map(function(p){ return toPoint(p,0,0,1); })});
});
shapeGroups.forEach(function(g){
  g[0].forEach(function(s){
    regionRings.push({cls:s[0],island:s[2]==1,pts:s[1].split(' ').map(function(p){ return toPoint(p,g[1],g[2],3); })});
  });
});
snapNeighbours(regionRings);
regionRings.forEach(function(r){
  if(!r.patch) r.pts = roundCoast(roundCoast(r.pts));
});
islets.forEach(function(g){
  g[3].split(' ').forEach(function(p){
    var c = toPoint(p,g[0],g[1],3);
    regionRings.push({cls:g[2],island:true,pts:[[c[0]-1.8,c[1]],[c[0],c[1]-1.5],[c[0]+1.8,c[1]],[c[0],c[1]+1.5]]});
  });
});

// build the geojson, y is flipped because geo has latitude going up
var features = [];
var regionData = [];
regionRings.forEach(function(r,i){
  var name = 'R' + i;
  var ring = r.pts.map(function(p){ return [p[0],825-p[1]]; });
  ring.push(ring[0]);
  features.push({type:'Feature',properties:{name:name},geometry:{type:'Polygon',coordinates:[ring]}});
  var style = {areaColor:classColors[r.cls]};
  if(r.patch) style.borderWidth = 0;
  regionData.push({name:name,value:1,itemStyle:style});
});
echarts.registerMap('nuts2',{type:'FeatureCollection',features:features});

var xMin = 11.09, xMax = 74.17, yMin = 0.88, yMax = 27.55;
var xEdges = [xMin].concat(eduBreaks,[xMax]);
var yEdges = [yMin].concat(unempBreaks,[yMax]);
var cells = [], countData = [];
cellClasses.forEach(function(row,j){
  row.forEach(function(c,i){
    cells.push({value:[xEdges[i],xEdges[i+1],yEdges[j],yEdges[j+1]],itemStyle:{color:classColors[c]}});
    countData.push({value:[countX[i],countY[j]],count:cellCounts[j][i]});
  });
});

function comma(v){ return v.toFixed(2).replace('.',','); }
var font = 'Arial, "Liberation Sans", sans-serif';
function txt(text,x,y,rot,align,size){
  return {type:'text',x:x,y:y,rotation:(rot||0)*Math.PI/180,z:5,style:{text:text,fill:'#111',font:(size||11)+'px '+font,align:align||'center',verticalAlign:'middle'}};
}
var graphics = [
  {type:'rect',shape:{x:21,y:42,width:271.5,height:271.5},z:1,style:{fill:'#fff',stroke:'#777',lineWidth:2}},
  {type:'rect',shape:{x:21.5,y:404.5,width:414,height:418},z:-1,style:{fill:'none',stroke:'#000',lineWidth:1}},
  {type:'rect',shape:{x:57,y:276,width:28,height:28,r:5},z:5,style:{fill:'#fff',stroke:'#333',lineWidth:1}},
  txt('No data',90.5,289.5,0,'left'),
  txt('UNEMP_25P_2023 \u2192',73.5,214,-45),
  txt('3,0',81.5,192,-45),
  txt('5,5',116.5,227.5,-45),
  txt('29,0',196.5,227.5,45),
  txt('39,4',232.5,192,45),
  txt('HIGH_EDU_2023 \u2192',242.5,210.5,45),
  txt('\u2193 UNEMP_25P_2023',31,419.5,0,'left'),
  txt('HIGH_EDU_2023 \u2192',426,807.5,0,'right')
];
legendCells.forEach(function(c){
  graphics.push({type:'rect',x:c[1],y:c[2],rotation:Math.PI/4,z:5,
    shape:{x:-22,y:-22,width:44,height:44,r:6},
    style:{fill:classColors[c[0]],stroke:'#111',lineWidth:0.9}});
});

var option = {
  animation:false,
  backgroundColor:'#fff',
  textStyle:{fontFamily:font},
  graphic:graphics,
  grid:{left:68.3,top:433,width:339.7,height:350.3,show:false},
  xAxis:{type:'value',min:xMin,max:xMax,position:'bottom',splitLine:{show:false},
    axisLine:{show:true,onZero:false,lineStyle:{color:'#000'}},
    axisTick:{show:true,length:6,customValues:eduTicks,lineStyle:{color:'#000'}},
    axisLabel:{customValues:eduTicks,color:'#111',fontSize:11,margin:8,formatter:comma}},
  yAxis:{type:'value',min:yMin,max:yMax,inverse:true,splitLine:{show:false},
    axisLine:{show:true,onZero:false,lineStyle:{color:'#000'}},
    axisTick:{show:true,length:6,customValues:unempTicks,lineStyle:{color:'#000'}},
    axisLabel:{customValues:unempTicks,color:'#111',fontSize:11,margin:9,formatter:comma}},
  series:[
    {type:'map',map:'nuts2',aspectScale:1,boundingCoords:[[0,825],[1386,0]],left:0,top:0,right:0,bottom:0,
      roam:false,silent:true,label:{show:false},
      itemStyle:{borderColor:'#333',borderWidth:0.8},
      emphasis:{disabled:true},select:{disabled:true},data:regionData},
    {type:'custom',coordinateSystem:'cartesian2d',silent:true,z:1,data:cells,
      encode:{x:[0,1],y:[2,3]},
      renderItem:function(params,api){
        var a = api.coord([api.value(0),api.value(2)]);
        var b = api.coord([api.value(1),api.value(3)]);
        return {type:'rect',shape:{x:a[0],y:a[1],width:b[0]-a[0],height:b[1]-a[1]},style:{fill:api.visual('color')}};
      }},
    {type:'scatter',silent:true,z:3,data:points,symbolSize:4.6,itemStyle:{color:'#000',opacity:1}},
    {type:'scatter',silent:true,z:4,data:countData,symbolSize:1,itemStyle:{opacity:1,color:'#fff'},
      label:{show:true,position:'inside',color:'#111',fontSize:15,backgroundColor:'#fff',borderRadius:6,padding:[3,3,2,3],
        formatter:function(p){ return p.data.count; }}}
  ]
};
var myChart = echarts.init(document.getElementById('chart'));
myChart.setOption(option);
</script>
</body>
</html>
